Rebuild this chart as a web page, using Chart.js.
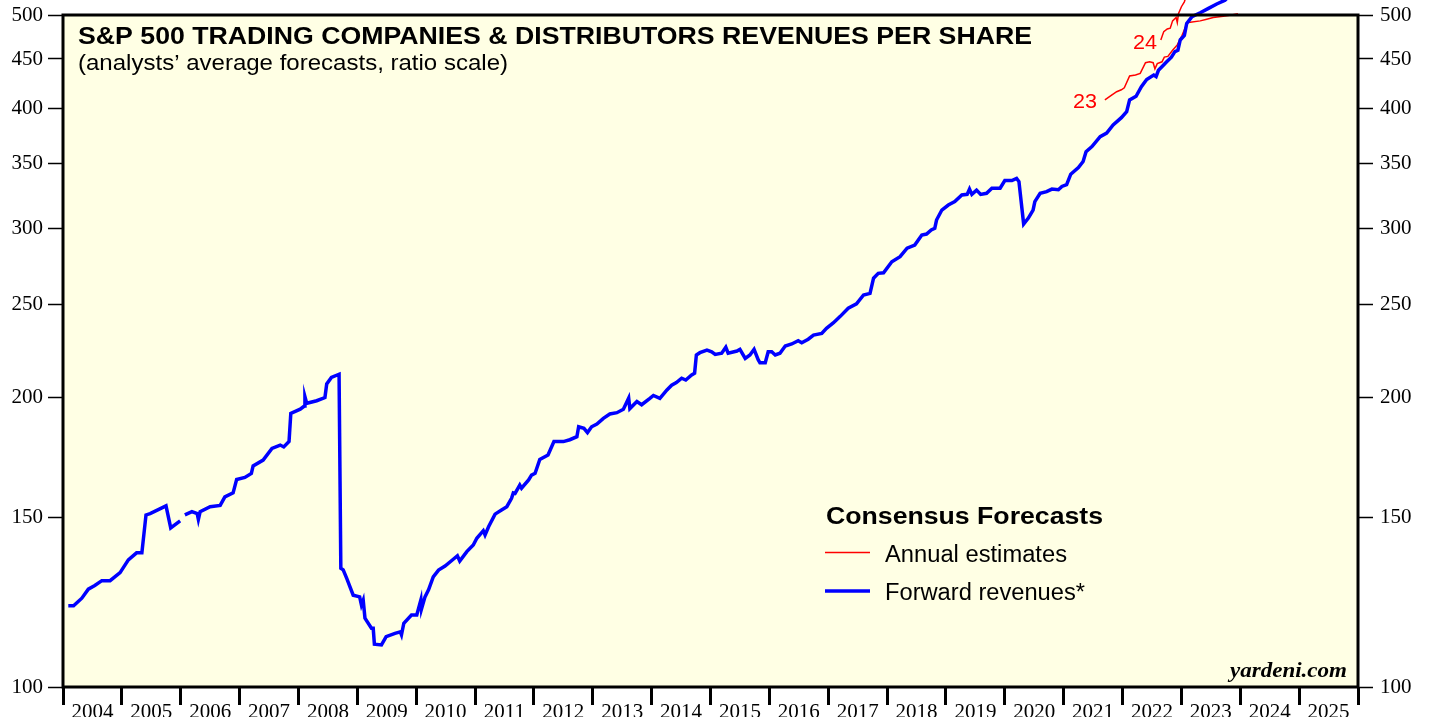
<!DOCTYPE html>
<html>
<head>
<meta charset="utf-8">
<script src="https://cdn.jsdelivr.net/npm/chart.js@4.4.1/dist/chart.umd.min.js"></script>
<style>
  html, body { margin: 0; padding: 0; background: #ffffff; }
  canvas { display: block; }
</style>
</head>
<body>
<canvas id="revChart" width="1429" height="717"></canvas>
<script>
// Forward revenues (blue), decimal year / value
const fwdDates = [
  2004.09, 2004.18, 2004.32, 2004.43, 2004.54, 2004.66, 2004.80, 2004.97, 2005.11, 2005.25,
  2005.34, 2005.41, 2005.48, 2005.75, 2005.83, 2005.99, 2006.03, 2006.07, 2006.19, 2006.28,
  2006.30, 2006.33, 2006.50, 2006.67, 2006.75, 2006.89, 2006.95, 2007.09, 2007.20, 2007.23,
  2007.40, 2007.55, 2007.69, 2007.75, 2007.84, 2007.87, 2008.03, 2008.10, 2008.11, 2008.14,
  2008.31, 2008.45, 2008.48, 2008.56, 2008.69, 2008.72, 2008.76, 2008.82, 2008.93, 2009.04,
  2009.07, 2009.10, 2009.13, 2009.24, 2009.27, 2009.29, 2009.41, 2009.49, 2009.64, 2009.73,
  2009.75, 2009.79, 2009.92, 2010.01, 2010.08, 2010.09, 2010.15, 2010.21, 2010.29, 2010.38,
  2010.49, 2010.63, 2010.70, 2010.74, 2010.86, 2010.97, 2011.03, 2011.14, 2011.17, 2011.23,
  2011.34, 2011.45, 2011.54, 2011.62, 2011.65, 2011.68, 2011.76, 2011.79, 2011.91, 2011.96,
  2012.02, 2012.10, 2012.24, 2012.34, 2012.50, 2012.61, 2012.73, 2012.76, 2012.85, 2012.91,
  2012.98, 2013.07, 2013.18, 2013.29, 2013.41, 2013.52, 2013.61, 2013.63, 2013.75, 2013.83,
  2013.97, 2014.03, 2014.14, 2014.26, 2014.34, 2014.42, 2014.51, 2014.58, 2014.68, 2014.73,
  2014.76, 2014.82, 2014.94, 2015.02, 2015.08, 2015.19, 2015.26, 2015.30, 2015.45, 2015.50,
  2015.59, 2015.67, 2015.74, 2015.81, 2015.84, 2015.93, 2015.98, 2016.04, 2016.10, 2016.18,
  2016.27, 2016.38, 2016.49, 2016.55, 2016.66, 2016.75, 2016.89, 2016.97, 2017.09, 2017.20,
  2017.34, 2017.48, 2017.60, 2017.71, 2017.77, 2017.85, 2017.94, 2018.08, 2018.22, 2018.34,
  2018.47, 2018.59, 2018.67, 2018.75, 2018.81, 2018.84, 2018.93, 2019.04, 2019.15, 2019.27,
  2019.36, 2019.40, 2019.44, 2019.52, 2019.59, 2019.69, 2019.78, 2019.92, 2020.00, 2020.12,
  2020.20, 2020.24, 2020.32, 2020.40, 2020.48, 2020.51, 2020.60, 2020.71, 2020.80, 2020.91,
  2020.97, 2021.05, 2021.12, 2021.25, 2021.33, 2021.38, 2021.48, 2021.62, 2021.73, 2021.84,
  2021.98, 2022.07, 2022.12, 2022.23, 2022.32, 2022.41, 2022.53, 2022.57, 2022.61, 2022.75,
  2022.83, 2022.89, 2022.94, 2022.98, 2023.05, 2023.09, 2023.18, 2023.32, 2023.46, 2023.60,
  2023.74, 2023.85
];
const fwdValues = [
  121.5, 121.5, 123.7, 126.4, 127.5, 129, 129, 131.5, 135.6, 137.9,
  137.9, 151, 151.5, 154.3, 146.4, 148.9, null, 151, 152.2, 151.5,
  149.4, 152.2, 154, 154.5, 157.7, 159.2, 164.4, 165.2, 166.8, 169.8,
  172.2, 177.1, 178.5, 177.7, 180, 192.6, 194.5, 196, 200.4, 197.3,
  198.5, 200, 206.6, 209.9, 211.5, 132.9, 132.4, 129.7, 124.6, 124.1,
  121.7, 123.1, 117.9, 115.1, 115.1, 110.8, 110.6, 112.8, 113.7, 114.1,
  113.3, 116.5, 118.8, 118.8, 123.2, 120.5, 124.1, 126.2, 130.2, 132.3,
  133.6, 135.8, 136.9, 135.2, 138.3, 140.5, 142.8, 145.4, 143.9, 146.8,
  151.3, 152.8, 154, 157.1, 159.2, 159, 162.2, 161, 164.2, 166.1,
  166.8, 172.5, 174.3, 180, 180, 180.8, 182.1, 186.5, 185.8, 183.9,
  186.5, 187.7, 190.3, 192.3, 192.9, 194.5, 199.8, 194.8, 198.1, 196.6,
  199.6, 201, 199.6, 203.7, 206, 207.3, 209.5, 208.6, 211.1, 212,
  221.5, 222.7, 224.1, 223.2, 221.8, 222.4, 225.6, 222.4, 223.6, 224.5,
  219.7, 221.5, 224.5, 219, 217.4, 217.4, 223.2, 223.2, 221.5, 222.4,
  226.3, 227.4, 229.2, 228.1, 230, 232.3, 233.2, 236.1, 239.3, 242.8,
  247.7, 250.3, 255.7, 256.7, 266.2, 269.3, 269.7, 276.9, 280.3, 286,
  288.2, 295.2, 295.9, 298.8, 300, 306, 313.4, 317.2, 319.8, 324.9,
  325.4, 329.5, 325.4, 328.7, 325.4, 326.2, 330.2, 330.2, 336.3, 336.3,
  338.1, 335.5, 303.1, 307.4, 313.4, 319.8, 326.2, 327.5, 329.5, 329,
  331.6, 333, 341.5, 347, 352, 360.4, 364.8, 373.6, 376.8, 384.2,
  391, 396.6, 408, 411.6, 421.1, 428.5, 433.1, 431.5, 438, 447.1,
  452, 458, 459.5, 471, 476, 490, 498, 502.7, 508, 513.4,
  518, 526
];

// Annual estimates (red)
const est23Dates = [
  2021.70, 2021.79, 2021.90, 2021.98, 2022.03, 2022.12, 2022.22, 2022.30, 2022.39, 2022.46,
  2022.52, 2022.55, 2022.59, 2022.67, 2022.71, 2022.77, 2022.85, 2022.93, 2023.01, 2023.10,
  2023.15, 2023.32, 2023.43, 2023.54, 2023.71, 2023.85, 2023.96
];
const est23Values = [
  408, 411.6, 416.1, 418, 420, 432, 433, 434.7, 446, 447,
  446, 439.5, 445, 447, 452, 452.8, 459.5, 465.4, 476, 491,
  491.5, 493, 495, 497, 498.5, 500, 501.5
];
const est24Dates = [2022.65, 2022.70, 2022.76, 2022.81, 2022.85, 2022.91, 2022.93, 2022.95, 2023.00, 2023.05, 2023.12];
const est24Values = [471, 480.5, 483.5, 484.5, 493, 497, 491, 501.5, 510, 516, 532];

const yearLabels = [
  '2004', '2005', '2006', '2007', '2008', '2009', '2010', '2011', '2012', '2013', '2014',
  '2015', '2016', '2017', '2018', '2019', '2020', '2021', '2022', '2023', '2024', '2025'
];
const yTicks = [100, 150, 200, 250, 300, 350, 400, 450, 500];

const toPoints = (xs, ys) => xs.map((x, i) => ({ x: x, y: ys[i] }));

const firstYear = Number(yearLabels[0]);
const lastYear = Number(yearLabels[yearLabels.length - 1]) + 1;

const serif = '"Liberation Serif", "Times New Roman", serif';
const sans = '"Liberation Sans", Arial, sans-serif';

// draw text squeezed/stretched to a given width
function fitText(ctx, text, x, y, width, font, color) {
  ctx.save();
  ctx.font = font;
  ctx.fillStyle = color || '#000';
  ctx.textAlign = 'left';
  ctx.textBaseline = 'alphabetic';
  const w = ctx.measureText(text).width;
  ctx.translate(x, y);
  ctx.scale(width / w, 1);
  ctx.fillText(text, 0, 0);
  ctx.restore();
}

// background, frame, titles, legend
const decor = {
  id: 'decor',
  beforeDraw(chart) {
    const { ctx, chartArea: a } = chart;
    ctx.save();
    ctx.fillStyle = '#ffffe4';
    ctx.fillRect(a.left, a.top, a.right - a.left, a.bottom - a.top);
    ctx.restore();
  },
  afterDatasetsDraw(chart) {
    const { ctx, chartArea: a } = chart;
    ctx.save();
    ctx.strokeStyle = '#000';
    ctx.lineWidth = 3;
    ctx.strokeRect(a.left, a.top, a.right - a.left, a.bottom - a.top);

    fitText(ctx, 'S&P 500 TRADING COMPANIES & DISTRIBUTORS REVENUES PER SHARE', 78, 43.5, 954, 'bold 23px ' + sans);
    fitText(ctx, '(analysts\u2019 average forecasts, ratio scale)', 78, 70, 430, '22px ' + sans);

    // legend
    fitText(ctx, 'Consensus Forecasts', 826, 523.5, 277, 'bold 23px ' + sans);
    fitText(ctx, 'Annual estimates', 885, 561.5, 182, '23px ' + sans);
    fitText(ctx, 'Forward revenues*', 885, 600, 200, '23px ' + sans);
    ctx.strokeStyle = '#ff0000';
    ctx.lineWidth = 1.5;
    ctx.beginPath(); ctx.moveTo(825, 552.5); ctx.lineTo(870, 552.5); ctx.stroke();
    ctx.strokeStyle = '#0000ff';
    ctx.lineWidth = 3.5;
    ctx.beginPath(); ctx.moveTo(825, 591); ctx.lineTo(870, 591); ctx.stroke();

    // series labels
    fitText(ctx, '23', 1073, 108, 24, '21px ' + sans, '#ff0000');
    fitText(ctx, '24', 1133, 49, 24, '21px ' + sans, '#ff0000');

    fitText(ctx, 'yardeni.com', 1230, 677, 117, 'italic bold 21px ' + serif);
    ctx.restore();
  }
};

const yAxis = (position, width, pad) => ({
  type: 'logarithmic',
  position: position,
  min: 100,
  max: 500,
  afterBuildTicks: (scale) => { scale.ticks = yTicks.map(v => ({ value: v })); },
  afterFit: (scale) => {
    scale.width = width;
    scale.paddingTop = 0;
    scale.paddingBottom = 0;
  },
  border: { display: false },
  grid: { drawOnChartArea: false, drawTicks: true, tickLength: 15, tickWidth: 1.5, tickColor: '#000' },
  ticks: {
    color: '#000',
    padding: pad,
    font: { family: serif, size: 21 },
    callback: (v) => String(v)
  }
});

new Chart(document.getElementById('revChart'), {
  type: 'line',
  data: {
    datasets: [
      {
        label: 'Forward revenues*',
        data: toPoints(fwdDates, fwdValues),
        borderColor: '#0000ff',
        borderWidth: 3.5,
        pointRadius: 0,
        tension: 0,
        spanGaps: false,
        clip: false
      },
      {
        label: '23',
        data: toPoints(est23Dates, est23Values),
        borderColor: '#ff0000',
        borderWidth: 1.5,
        pointRadius: 0,
        tension: 0,
        clip: false
      },
      {
        label: '24',
        data: toPoints(est24Dates, est24Values),
        borderColor: '#ff0000',
        borderWidth: 1.5,
        pointRadius: 0,
        tension: 0,
        clip: false
      }
    ]
  },
  options: {
    responsive: false,
    animation: false,
    layout: { padding: { top: 15, left: 0, right: 0, bottom: 0 } },
    plugins: {
      legend: { display: false },
      tooltip: { enabled: false }
    },
    scales: {
      x: {
        type: 'linear',
        min: firstYear,
        max: lastYear,
        afterBuildTicks: (scale) => {
          const t = [];
          for (let v = firstYear; v <= lastYear; v += 0.5) t.push({ value: v });
          scale.ticks = t;
        },
        afterFit: (scale) => {
          scale.height = 30;
          scale.paddingLeft = 0;
          scale.paddingRight = 0;
        },
        border: { display: false },
        grid: {
          drawOnChartArea: false,
          drawTicks: true,
          tickLength: 18,
          tickWidth: 3,
          tickColor: (c) => Number.isInteger(c.tick.value) ? '#000' : 'rgba(0,0,0,0)'
        },
        ticks: {
          color: '#000',
          padding: -5,
          autoSkip: false,
          maxRotation: 0,
          font: { family: serif, size: 21 },
          callback: (v) => Number.isInteger(v) ? '' : yearLabels[Math.floor(v) - firstYear]
        }
      },
      y: yAxis('left', 63, 5),
      y2: yAxis('right', 71, 7)
    }
  },
  plugins: [decor]
});
</script>
</body>
</html>
